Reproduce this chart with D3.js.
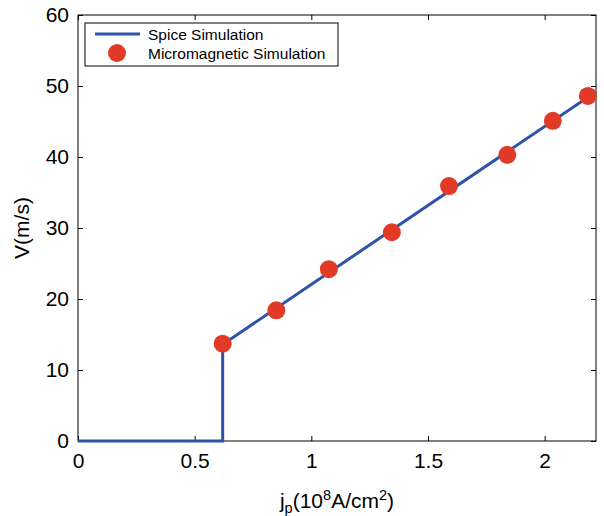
<!DOCTYPE html>
<html><head><meta charset="utf-8">
<script src="https://cdn.jsdelivr.net/npm/d3@7"></script>
<style>body{margin:0;background:#fff}text{font-family:"Liberation Sans",Arial,sans-serif}</style>
</head><body><svg id="c" width="604" height="516"></svg>
<script>
const lineX = [0, 0.62, 0.62, 2.22];
const lineY = [0, 0, 13.6, 49.2];
const simX = [0.62, 0.85, 1.075, 1.345, 1.59, 1.84, 2.035, 2.185];
const simY = [13.7, 18.4, 24.2, 29.4, 35.9, 40.3, 45.1, 48.6];
const xTicks = [0, 0.5, 1, 1.5, 2];
const yTicks = [0, 10, 20, 30, 40, 50, 60];

const svg = d3.select("#c");
const L = 78, R = 596, T = 15, B = 441;
const x = d3.scaleLinear().domain([0, 2.22]).range([L, R]);
const y = d3.scaleLinear().domain([0, 60]).range([B, T]);
const blue = "#2f52ab", red = "#e13a26";
const FS = 21;

svg.append("rect").attr("x", L).attr("y", T).attr("width", R - L).attr("height", B - T)
  .attr("fill", "none").attr("stroke", "#000").attr("stroke-width", 1);

const tk = 5;
const gx = svg.append("g").attr("transform", `translate(0,${B})`)
  .call(d3.axisBottom(x).tickValues(xTicks).tickSizeInner(-tk).tickSizeOuter(0).tickPadding(12).tickFormat(d3.format("")));
const gxt = svg.append("g").attr("transform", `translate(0,${T})`)
  .call(d3.axisTop(x).tickValues(xTicks).tickSizeInner(-tk).tickSizeOuter(0).tickFormat(""));
const gy = svg.append("g").attr("transform", `translate(${L},0)`)
  .call(d3.axisLeft(y).tickValues(yTicks).tickSizeInner(-tk).tickSizeOuter(0).tickPadding(9));
const gyr = svg.append("g").attr("transform", `translate(${R},0)`)
  .call(d3.axisRight(y).tickValues(yTicks).tickSizeInner(-tk).tickSizeOuter(0).tickFormat(""));
[gx, gxt, gy, gyr].forEach(g => {
  g.select(".domain").remove();
  g.selectAll("line").attr("stroke", "#000");
  g.selectAll("text").attr("font-size", FS).attr("fill", "#000").attr("font-family", "Liberation Sans, Arial, sans-serif");
});

const pts = lineX.map((v, i) => [v, lineY[i]]);
svg.append("path").datum(pts)
  .attr("d", d3.line().x(d => x(d[0])).y(d => y(d[1])))
  .attr("fill", "none").attr("stroke", blue).attr("stroke-width", 3);

svg.selectAll("circle.m").data(simX.map((v, i) => [v, simY[i]])).enter()
  .append("circle").attr("class", "m")
  .attr("cx", d => x(d[0])).attr("cy", d => y(d[1])).attr("r", 9).attr("fill", red);

// legend
svg.append("rect").attr("x", 85).attr("y", 23).attr("width", 253).attr("height", 43)
  .attr("fill", "#fff").attr("stroke", "#000").attr("stroke-width", 1);
svg.append("line").attr("x1", 95).attr("x2", 140).attr("y1", 34).attr("y2", 34)
  .attr("stroke", blue).attr("stroke-width", 3);
svg.append("circle").attr("cx", 117).attr("cy", 53).attr("r", 9).attr("fill", red);
svg.append("text").attr("x", 148).attr("y", 40).attr("font-size", 15.5).text("Spice Simulation");
svg.append("text").attr("x", 148).attr("y", 59).attr("font-size", 15.5).text("Micromagnetic Simulation");

// axis labels
svg.append("text").attr("transform", "translate(29,228) rotate(-90)")
  .attr("text-anchor", "middle").attr("font-size", FS).text("V(m/s)");
const xl = svg.append("text").attr("x", 337).attr("y", 508).attr("text-anchor", "middle").attr("font-size", FS);
xl.append("tspan").text("j");
xl.append("tspan").attr("font-size", 14.5).attr("dy", 5).text("p");
xl.append("tspan").attr("dy", -5).text("(10");
xl.append("tspan").attr("font-size", 14.5).attr("dy", -8).text("8");
xl.append("tspan").attr("dy", 8).text("A/cm");
xl.append("tspan").attr("font-size", 14.5).attr("dy", -8).text("2");
xl.append("tspan").attr("dy", 8).text(")");
</script></body></html>
